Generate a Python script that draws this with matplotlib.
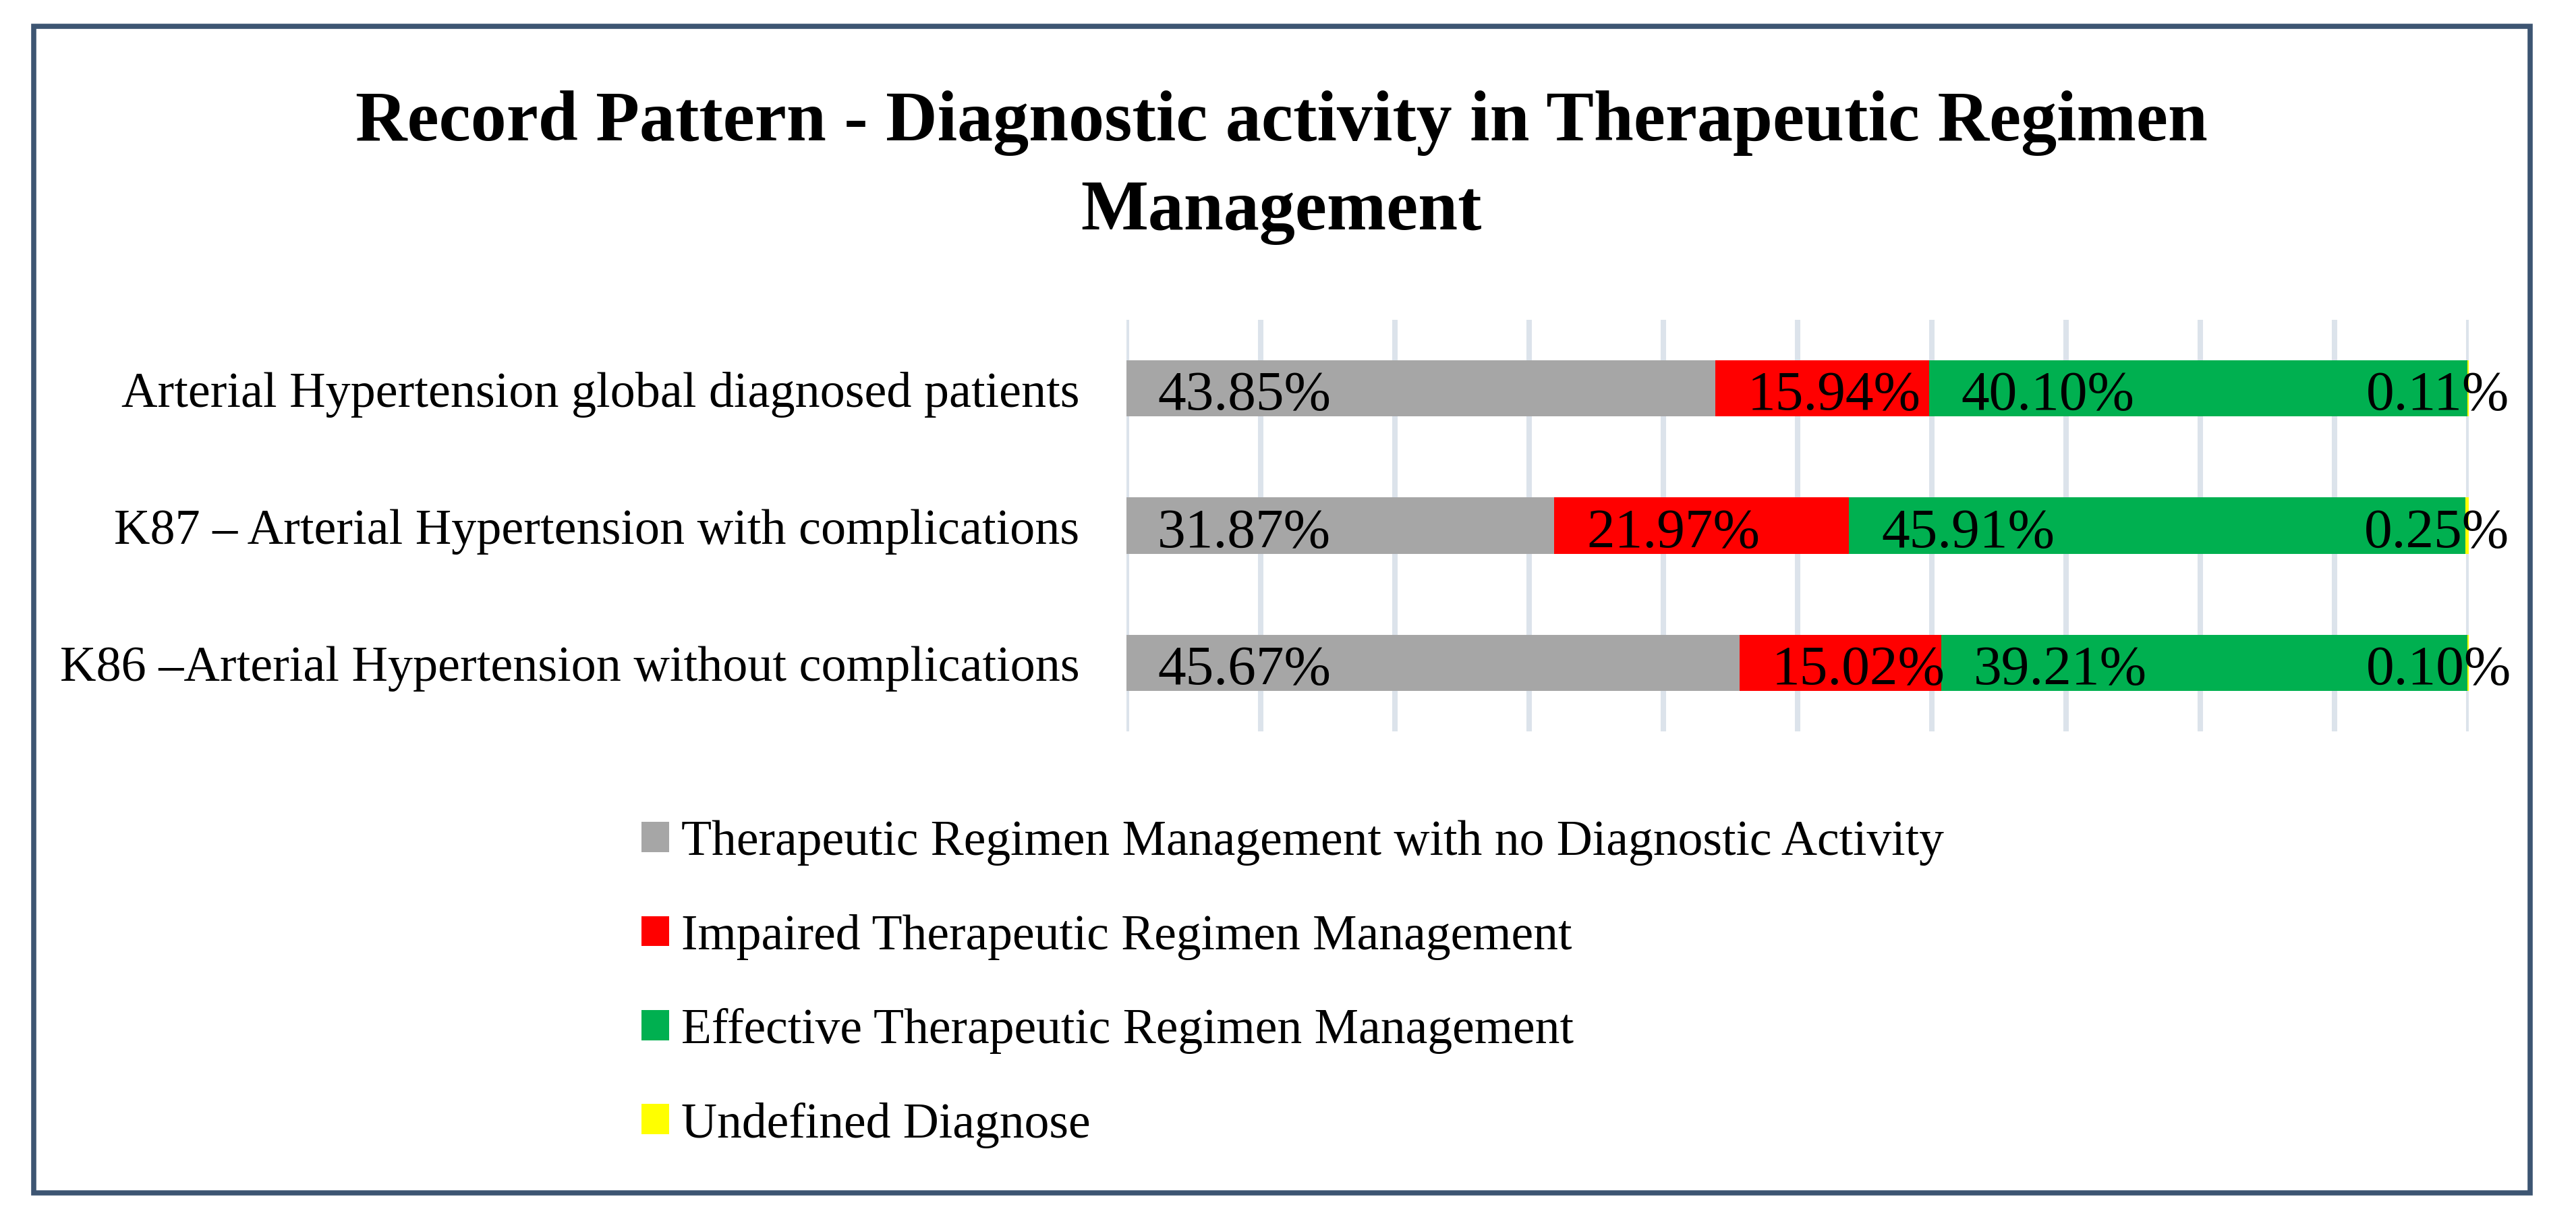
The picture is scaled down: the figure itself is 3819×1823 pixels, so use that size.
import matplotlib
matplotlib.use("Agg")
import matplotlib.pyplot as plt
from matplotlib.patches import Rectangle

plt.rcParams['font.family'] = ['Liberation Serif', 'DejaVu Serif']

categories = [
    "Arterial Hypertension global diagnosed patients",
    "K87 \u2013 Arterial Hypertension with complications",
    "K86 \u2013Arterial Hypertension without complications",
]
series = [
    "Therapeutic Regimen Management with no Diagnostic Activity",
    "Impaired Therapeutic Regimen Management",
    "Effective Therapeutic Regimen Management",
    "Undefined Diagnose",
]
no_activity = [43.85, 31.87, 45.67]
impaired = [15.94, 21.97, 15.02]
effective = [40.10, 45.91, 39.21]
undefined = [0.11, 0.25, 0.10]

colors = ["#A6A6A6", "#FF0000", "#00B050", "#FFFF00"]
label_offsets = [46, 48, 48, -150]   # pixels from segment start

W, H = 3819, 1824
fig = plt.figure(figsize=(W / 100, H / 100), dpi=100)

ax = fig.add_axes([1670 / W, 1 - 1085 / H, (3660 - 1670) / W, (1085 - 475) / H])

values = [no_activity, impaired, effective, undefined]
ypos = list(range(len(categories)))
left = [0.0] * len(categories)
for vals, name, col, off in zip(values, series, colors, label_offsets):
    ax.barh(ypos, vals, left=left, height=0.41, color=col, label=name, zorder=2)
    for y, v, l in zip(ypos, vals, left):
        ax.annotate("%.2f%%" % v, xy=(l, y), xytext=(off, -11),
                    textcoords="offset pixels", ha="left", va="center",
                    fontsize=60, color="black", zorder=3)
    left = [a + b for a, b in zip(left, vals)]

ax.set_xlim(0, 100)
ax.set_ylim(2.5, -0.5)
ax.set_xticks(range(0, 101, 10))
ax.set_xticklabels([])
ax.set_yticks(ypos)
ax.set_yticklabels(categories, fontsize=53.4)
ax.tick_params(axis="both", length=0)
ax.tick_params(axis="y", pad=50)
ax.grid(axis="x", color="#DCE3EB", linewidth=5.8, zorder=0)
ax.set_axisbelow(True)
for s in ax.spines.values():
    s.set_visible(False)

fig.text(1900 / W, 1 - 340 / H,
         "Record Pattern - Diagnostic activity in Therapeutic Regimen\nManagement",
         ha="center", va="baseline", fontsize=76.3, fontweight="bold",
         linespacing=1.47, multialignment="center")

fig.legend(loc="upper left", bbox_to_anchor=(951 / W, 1 - 1216 / H),
           bbox_transform=fig.transFigure, frameon=False, fontsize=53,
           handlelength=0.557, handleheight=0.557, handletextpad=0.245,
           labelspacing=0.97, borderpad=0, borderaxespad=0)

fig.add_artist(Rectangle((50 / W, 1 - 1769 / H), (3751 - 50) / W, (1769 - 39.5) / H,
                         transform=fig.transFigure, fill=False,
                         edgecolor="#3D5572", linewidth=5.5))

fig.savefig("out.png", dpi=100, facecolor="white")
